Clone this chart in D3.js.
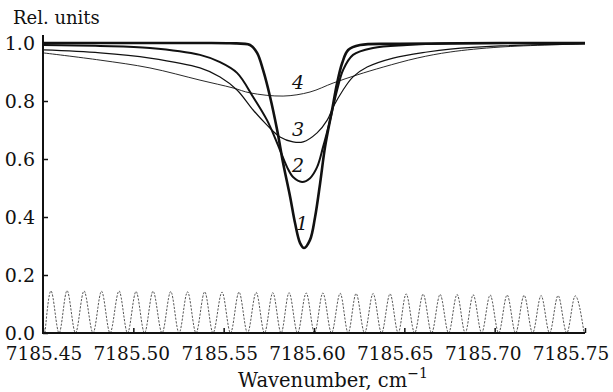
<!DOCTYPE html>
<html>
<head>
<meta charset="utf-8">
<script src="https://cdn.jsdelivr.net/npm/d3@7"></script>
<style>
	body {margin: 0; background: #fff;}
	#chart text {font-family: "DejaVu Serif", serif !important;}
</style>
</head>
<body>
<svg id="chart" width="613" height="392"></svg>
<script>
// absorption line contours (rel. units) vs wavenumber, cm-1

var xTicks = [7185.45, 7185.50, 7185.55, 7185.60, 7185.65, 7185.70, 7185.75];
var xTickLabels = ['7185.45', '7185.50', '7185.55', '7185.60', '7185.65', '7185.70', '7185.75'];
var yTicks = [0, 0.2, 0.4, 0.6, 0.8, 1.0];
var yTickLabels = ['0.0', '0.2', '0.4', '0.6', '0.8', '1.0'];

// curve 1 - narrowest, deepest
var wn1 = [7185.450, 7185.509, 7185.537, 7185.5535, 7185.5646, 7185.5685, 7185.5718, 7185.5757, 7185.5796,
	7185.5829, 7185.5868, 7185.5895, 7185.5923, 7185.5945, 7185.5978, 7185.6006, 7185.6034, 7185.6061,
	7185.6100, 7185.6128, 7185.6156, 7185.6189, 7185.6255, 7185.6477, 7185.7030, 7185.750];
var val1 = [1.000, 1.000, 1.000, 0.999, 0.993, 0.966, 0.907, 0.814, 0.700,
	0.586, 0.469, 0.379, 0.310, 0.293, 0.321, 0.400, 0.517, 0.641,
	0.769, 0.862, 0.931, 0.976, 0.993, 0.997, 1.000, 1.000];

var wn2 = [7185.450, 7185.4816, 7185.5092, 7185.5369, 7185.5480, 7185.5574, 7185.5663, 7185.5740, 7185.5796,
	7185.5851, 7185.5884, 7185.5934, 7185.5978, 7185.6017, 7185.6050, 7185.6089, 7185.6128, 7185.6161,
	7185.6216, 7185.6327, 7185.6515, 7185.6754, 7185.750];
var val2 = [0.993, 0.990, 0.983, 0.959, 0.934, 0.897, 0.814, 0.734, 0.655,
	0.572, 0.538, 0.521, 0.534, 0.572, 0.641, 0.734, 0.838, 0.907,
	0.959, 0.983, 0.993, 0.998, 1.000];

var wn3 = [7185.450, 7185.4816, 7185.5092, 7185.5369, 7185.5480, 7185.5574, 7185.5663, 7185.5740, 7185.5812,
	7185.5884, 7185.5940, 7185.6017, 7185.6073, 7185.6106, 7185.6161, 7185.6216, 7185.6294, 7185.6438,
	7185.6626, 7185.6754, 7185.7030, 7185.750];
var val3 = [0.976, 0.966, 0.948, 0.914, 0.883, 0.838, 0.769, 0.717, 0.676,
	0.659, 0.659, 0.690, 0.734, 0.779, 0.838, 0.883, 0.917, 0.948,
	0.969, 0.979, 0.990, 0.997];

var wn4 = [7185.450, 7185.4816, 7185.5092, 7185.5369, 7185.5552, 7185.5646, 7185.5829, 7185.5978, 7185.6106,
	7185.6239, 7185.6383, 7185.6571, 7185.6754, 7185.7030, 7185.750];
var val4 = [0.966, 0.941, 0.914, 0.872, 0.845, 0.828, 0.817, 0.831, 0.862,
	0.890, 0.917, 0.948, 0.969, 0.986, 0.997];

// reference interferometer fringes (peaks and zeros)
var fringePeaks = [7185.4544, 7185.4633, 7185.4727, 7185.4824, 7185.4921, 7185.5015, 7185.5109, 7185.5207,
	7185.5300, 7185.5395, 7185.5491, 7185.5585, 7185.5680, 7185.5772, 7185.5862, 7185.5957,
	7185.6049, 7185.6145, 7185.6233, 7185.6327, 7185.6421, 7185.6510, 7185.6604, 7185.6698,
	7185.6792, 7185.6881, 7185.6975, 7185.7069, 7185.7163, 7185.7257, 7185.7351, 7185.7446];
var fringePeakVals = [0.145, 0.146, 0.145, 0.144, 0.145, 0.143, 0.144, 0.143,
	0.142, 0.142, 0.141, 0.141, 0.140, 0.139, 0.139, 0.138,
	0.138, 0.137, 0.136, 0.136, 0.135, 0.135, 0.134, 0.133,
	0.133, 0.132, 0.131, 0.131, 0.130, 0.129, 0.129, 0.128];
var fringeZeros = [7185.4511, 7185.4589, 7185.4680, 7185.4777, 7185.4871, 7185.4968, 7185.5062, 7185.5159,
	7185.5253, 7185.5347, 7185.5441, 7185.5538, 7185.5632, 7185.5726, 7185.5818, 7185.5909,
	7185.6003, 7185.6097, 7185.6189, 7185.6280, 7185.6374, 7185.6466, 7185.6557, 7185.6651,
	7185.6745, 7185.6837, 7185.6928, 7185.7022, 7185.7116, 7185.7210, 7185.7304, 7185.7399, 7185.7495];

// curve numbers (placed in data units)
var curveNames = ['1', '2', '3', '4'];
var nameWn = [7185.5934, 7185.5912, 7185.5912, 7185.5912];
var nameVal = [0.355, 0.555, 0.680, 0.840];

var svg = d3.select('#chart');

var x_scale = d3.scaleLinear().domain([7185.45, 7185.75]).range([43, 585]);
var y_scale = d3.scaleLinear().domain([0, 1]).range([333, 43]);

function zip(a, b) {
	return a.map(function (d, i) {return [d, b[i]];});
}

var line = d3.line()
	.x(function (d) {return x_scale(d[0]);})
	.y(function (d) {return y_scale(d[1]);})
	.curve(d3.curveCatmullRom.alpha(0.5));

// fringes
var fringe = [];
fringeZeros.forEach(function (z, i) {
	fringe.push([z, 0]);
	if (i < fringePeaks.length) fringe.push([fringePeaks[i], fringePeakVals[i]]);
});
svg.append('path')
	.attr('d', line.curve(d3.curveMonotoneX)(fringe))
	.attr('fill', 'none')
	.attr('stroke', '#444')
	.attr('stroke-width', 0.9)
	.attr('stroke-dasharray', '2.2,1.4');
line.curve(d3.curveCatmullRom.alpha(0.5));

var curves = [
	{d: zip(wn4, val4), w: 0.9},
	{d: zip(wn3, val3), w: 1.2},
	{d: zip(wn2, val2), w: 2.0},
	{d: zip(wn1, val1), w: 2.6}
];
svg.selectAll('path.curve').data(curves).enter().append('path')
	.attr('class', 'curve')
	.attr('d', function (c) {return line(c.d);})
	.attr('fill', 'none')
	.attr('stroke', '#111')
	.attr('stroke-width', function (c) {return c.w;})
	.attr('stroke-linejoin', 'round');

// axes
var x_axis = d3.axisBottom(x_scale).tickValues(xTicks).tickSize(-5).tickSizeOuter(0)
	.tickFormat(function (d, i) {return xTickLabels[i];});
var gx = svg.append('g').attr('transform', 'translate(0,' + y_scale(0) + ')').call(x_axis)
	.attr('font-size', 18.5);
gx.select('.domain').remove();
gx.selectAll('.tick line').attr('stroke', '#111').attr('stroke-width', 1.5);
gx.selectAll('.tick text')
	.attr('y', 27).attr('dy', 0)
	.attr('x', function (d, i) {return 0.5 - i * 2.5;})
	.attr('fill', '#111');

var y_axis = d3.axisLeft(y_scale).tickValues(yTicks).tickSize(-5).tickSizeOuter(0)
	.tickFormat(function (d, i) {return yTickLabels[i];});
var gy = svg.append('g').attr('transform', 'translate(' + x_scale(7185.45) + ',0)').call(y_axis)
	.attr('font-size', 19);
gy.select('.domain').remove();
gy.selectAll('.tick line').attr('stroke', '#111').attr('stroke-width', 1.5);
gy.selectAll('.tick text')
	.attr('x', -8).attr('dy', '0.35em')
	.attr('fill', '#111');

// axis lines
svg.append('line')
	.attr('x1', x_scale(7185.45)).attr('y1', y_scale(0))
	.attr('x2', x_scale(7185.75)).attr('y2', y_scale(0))
	.attr('stroke', '#111').attr('stroke-width', 2);
svg.append('line')
	.attr('x1', x_scale(7185.45)).attr('y1', y_scale(0) + 1)
	.attr('x2', x_scale(7185.45)).attr('y2', y_scale(1.028))
	.attr('stroke', '#111').attr('stroke-width', 2);

// curve numbers
svg.selectAll('text.cname').data(curveNames).enter().append('text')
	.attr('class', 'cname')
	.attr('x', function (d, i) {return x_scale(nameWn[i]);})
	.attr('y', function (d, i) {return y_scale(nameVal[i]);})
	.attr('text-anchor', 'middle')
	.attr('font-size', 19)
	.attr('font-style', 'italic')
	.attr('fill', '#111')
	.text(function (d) {return d;});

// titles
svg.append('text')
	.attr('x', 13).attr('y', 24)
	.attr('font-size', 18)
	.attr('fill', '#111')
	.text('Rel. units');

var xt = svg.append('text')
	.attr('x', 333).attr('y', 387)
	.attr('text-anchor', 'middle')
	.attr('font-size', 19.5)
	.attr('fill', '#111');
xt.append('tspan').text('Wavenumber, cm');
xt.append('tspan').attr('dy', -9).attr('font-size', 14).text('\u22121');
</script>
</body>
</html>
